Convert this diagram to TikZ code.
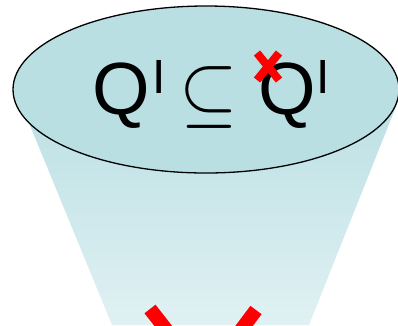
\documentclass[tikz,border=0pt]{standalone}
\usepackage{fontspec}
\setmainfont{Liberation Sans}
\usepackage{graphicx}
\definecolor{ellfill}{RGB}{185,223,227}
\definecolor{traptop}{RGB}{186,223,227}
\definecolor{trapbot}{RGB}{224,241,243}
\definecolor{xred}{RGB}{255,0,0}
\tikzset{
  bigtxt/.style={inner sep=0pt, anchor=base west, font=\fontsize{74}{78}\selectfont},
  suptxt/.style={inner sep=0pt, anchor=base west, font=\fontsize{48}{52}\selectfont},
  cross/.style={draw=xred, line cap=butt}
}
\begin{document}
\begin{tikzpicture}[x=1pt,y=-1pt]
\useasboundingbox (0,0) rectangle (398,325);
\clip (0,0) rectangle (398,325);
% funnel
\shade[top color=traptop, bottom color=trapbot] (15,89) -- (403,89) -- (309,325) -- (112,325) -- cycle;
% big red X (cut off)
\draw[cross, line width=14pt] (150,309) -- (197,369);
\draw[cross, line width=14pt] (256,310) -- (211,370);
% ellipse
\draw[fill=ellfill, line width=1.3pt] (206,89.5) ellipse [x radius=193, y radius=83.5];
% text
\node[bigtxt] (q1) at (92,114) {Q};
\node[suptxt] (i1) at (152,93) {I};
\node[inner sep=0pt] (sub) at (209,97) {\scalebox{7.5}[8.0]{$\subseteq$}};
\node[bigtxt] (q2) at (258,114) {Q};
\node[suptxt] (i2) at (316,93) {I};
% small red X
\draw[cross, line width=8pt] (257,53) -- (279,80);
\draw[cross, line width=8pt] (279,53) -- (257,80);
\end{tikzpicture}
\end{document}
